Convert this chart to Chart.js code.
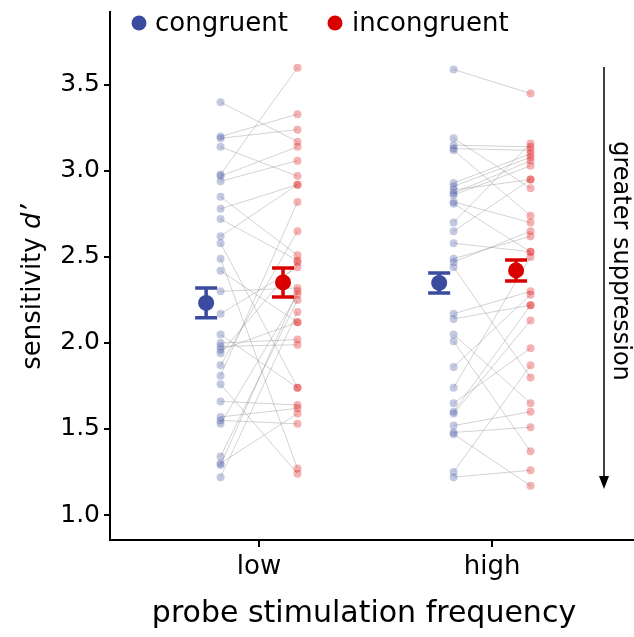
<!DOCTYPE html>
<html>
<head>
<meta charset="utf-8">
<script src="https://cdn.jsdelivr.net/npm/chart.js@4.4.0/dist/chart.umd.min.js"></script>
<style>
  html, body { margin: 0; padding: 0; background: #fff; }
  #wrap { width: 634px; height: 637px; }
</style>
</head>
<body>
<div id="wrap"><canvas id="chart" width="634" height="637"></canvas></div>
<script>
const categories = ['low', 'high'];
const yTicks = [1.0, 1.5, 2.0, 2.5, 3.0, 3.5];

// one entry per participant, same index = same participant (joined by grey lines)
const lowCongruent = [3.40, 3.20, 3.19, 3.14, 2.98, 2.97, 2.94, 2.85, 2.78, 2.72, 2.62, 2.58, 2.49, 2.42, 2.30, 2.17,
    2.05, 2.00, 1.98, 1.96, 1.94, 1.87, 1.81, 1.76, 1.66, 1.57, 1.55, 1.53, 1.34, 1.30, 1.29, 1.22];
const lowIncongruent = [3.17, 3.33, 3.24, 2.97, 3.60, 3.14, 3.06, 2.51, 2.92, 2.48, 2.92, 1.74, 1.27, 2.12, 2.32, 2.44,
    1.74, 2.02, 1.99, 2.12, 2.47, 2.65, 2.82, 1.24, 1.64, 1.62, 1.53, 2.28, 2.25, 1.59, 2.30, 2.18];
const highCongruent = [3.59, 3.19, 3.15, 3.13, 3.12, 2.93, 2.91, 2.89, 2.87, 2.86, 2.82, 2.81, 2.70, 2.65, 2.58, 2.49,
    2.47, 2.44, 2.17, 2.14, 2.05, 2.01, 1.86, 1.74, 1.65, 1.60, 1.59, 1.52, 1.48, 1.47, 1.25, 1.22];
const highIncongruent = [3.45, 2.90, 3.14, 3.12, 2.74, 3.10, 3.08, 2.95, 3.06, 3.03, 2.70, 2.53, 3.16, 2.95, 2.53, 2.62,
    2.65, 1.80, 2.30, 2.22, 1.65, 1.37, 2.28, 2.50, 1.97, 2.22, 2.13, 1.60, 1.51, 1.17, 1.87, 1.26];

const meanCongruent = [2.233, 2.349];
const meanIncongruent = [2.352, 2.422];
const seCongruent = [0.087, 0.058];
const seIncongruent = [0.084, 0.061];

const BLUE = '#3a4ba0';
const RED = '#d90000';
const FONT = '"DejaVu Sans", "Liberation Sans", sans-serif';

// horizontal dodge inside each category
const DX_POINTS = 0.165;
const DX_MEAN_CON = -0.227;
const DX_MEAN_INC = 0.103;

const pairLines = [];
const conPoints = [];
const incPoints = [];
[[lowCongruent, lowIncongruent], [highCongruent, highIncongruent]].forEach(([con, inc], c) => {
    const xc = c + 1;
    con.forEach((v, i) => {
        pairLines.push({ x: xc - DX_POINTS, y: v });
        pairLines.push({ x: xc + DX_POINTS, y: inc[i] });
        pairLines.push({ x: xc, y: null });
        conPoints.push({ x: xc - DX_POINTS, y: v });
        incPoints.push({ x: xc + DX_POINTS, y: inc[i] });
    });
});

const meanConPoints = meanCongruent.map((m, i) => ({ x: i + 1 + DX_MEAN_CON, y: m }));
const meanIncPoints = meanIncongruent.map((m, i) => ({ x: i + 1 + DX_MEAN_INC, y: m }));

const errorBars = {
    id: 'errorBars',
    afterDatasetsDraw(chart) {
        const { ctx, scales: { x, y } } = chart;
        const groups = [
            { means: meanCongruent, se: seCongruent, dx: DX_MEAN_CON, color: BLUE },
            { means: meanIncongruent, se: seIncongruent, dx: DX_MEAN_INC, color: RED }
        ];
        ctx.save();
        ctx.lineWidth = 3.5;
        groups.forEach(g => {
            ctx.strokeStyle = g.color;
            g.means.forEach((m, i) => {
                const px = x.getPixelForValue(i + 1 + g.dx);
                const top = y.getPixelForValue(m + g.se[i]);
                const bot = y.getPixelForValue(m - g.se[i]);
                ctx.beginPath();
                ctx.moveTo(px, top); ctx.lineTo(px, bot);
                ctx.moveTo(px - 11, top); ctx.lineTo(px + 11, top);
                ctx.moveTo(px - 11, bot); ctx.lineTo(px + 11, bot);
                ctx.stroke();
            });
        });
        ctx.restore();
    }
};

// legend, axis titles (d' in italics) and the "greater suppression" arrow
const extras = {
    id: 'extras',
    afterDraw(chart) {
        const ctx = chart.ctx;
        ctx.save();
        ctx.textBaseline = 'middle';
        ctx.font = '26px ' + FONT;

        ctx.fillStyle = BLUE;
        ctx.beginPath(); ctx.arc(139, 23, 7.5, 0, Math.PI * 2); ctx.fill();
        ctx.fillStyle = '#000';
        ctx.fillText('congruent', 155, 24);
        ctx.fillStyle = RED;
        ctx.beginPath(); ctx.arc(335, 23, 7.5, 0, Math.PI * 2); ctx.fill();
        ctx.fillStyle = '#000';
        ctx.fillText('incongruent', 352, 24);

        // arrow
        ctx.strokeStyle = '#000';
        ctx.lineWidth = 1.5;
        ctx.beginPath(); ctx.moveTo(604, 67); ctx.lineTo(604, 478); ctx.stroke();
        ctx.beginPath(); ctx.moveTo(599, 476); ctx.lineTo(609, 476); ctx.lineTo(604, 489); ctx.closePath(); ctx.fill();

        ctx.save();
        ctx.translate(620, 261);
        ctx.rotate(Math.PI / 2);
        ctx.textAlign = 'center';
        ctx.font = '24px ' + FONT;
        ctx.fillText('greater suppression', 0, 0);
        ctx.restore();

        // x axis title
        ctx.save();
        ctx.textAlign = 'center';
        ctx.font = '30px ' + FONT;
        ctx.fillText('probe stimulation frequency', 364, 614);
        ctx.restore();

        // y axis title
        ctx.save();
        ctx.translate(33, 287);
        ctx.rotate(-Math.PI / 2);
        const normal = '26px ' + FONT;
        const italic = 'italic 26px ' + FONT;
        ctx.font = normal;
        const w1 = ctx.measureText('sensitivity ').width;
        ctx.font = italic;
        const w2 = ctx.measureText('d\u2019').width;
        const start = -(w1 + w2) / 2;
        ctx.font = normal;
        ctx.fillText('sensitivity ', start, 0);
        ctx.font = italic;
        ctx.fillText('d\u2019', start + w1, 0);
        ctx.restore();

        ctx.restore();
    }
};

const noPadding = s => {
    s.paddingTop = 0; s.paddingBottom = 0; s.paddingLeft = 0; s.paddingRight = 0;
};

new Chart(document.getElementById('chart'), {
    type: 'scatter',
    data: {
        datasets: [
            { data: meanConPoints, backgroundColor: BLUE, pointRadius: 8, borderWidth: 0, order: 0 },
            { data: meanIncPoints, backgroundColor: RED, pointRadius: 8, borderWidth: 0, order: 0 },
            { data: conPoints, backgroundColor: 'rgba(58,75,160,0.3)', pointRadius: 4, borderWidth: 0, order: 2 },
            { data: incPoints, backgroundColor: 'rgba(217,0,0,0.3)', pointRadius: 4, borderWidth: 0, order: 2 },
            {
                data: pairLines, showLine: true, spanGaps: false, pointRadius: 0,
                borderColor: 'rgba(120,120,120,0.33)', borderWidth: 1, order: 3
            }
        ]
    },
    options: {
        responsive: false,
        animation: false,
        devicePixelRatio: 1,
        layout: { autoPadding: false, padding: { top: 12, right: 0, bottom: 0, left: 0 } },
        plugins: { legend: { display: false }, tooltip: { enabled: false } },
        scales: {
            x: {
                type: 'linear',
                min: 0.3605,
                max: 2.609,
                afterBuildTicks: s => { s.ticks = categories.map((c, i) => ({ value: i + 1 })); },
                afterFit: s => { s.height = 97; noPadding(s); },
                ticks: {
                    callback: v => categories[Math.round(v) - 1],
                    font: { family: FONT, size: 26 },
                    color: '#000',
                    padding: 5,
                    maxRotation: 0,
                    autoSkip: false
                },
                grid: { drawOnChartArea: false, drawTicks: true, tickLength: 7, color: '#000', lineWidth: 2 },
                border: { display: true, color: '#000', width: 2 }
            },
            y: {
                min: 0.8547,
                max: 3.924,
                afterBuildTicks: s => { s.ticks = yTicks.map(v => ({ value: v })); },
                afterFit: s => { s.width = 110; noPadding(s); },
                ticks: {
                    callback: v => v.toFixed(1),
                    font: { family: FONT, size: 25 },
                    color: '#000',
                    padding: 4
                },
                grid: { drawOnChartArea: false, drawTicks: true, tickLength: 6, color: '#000', lineWidth: 2 },
                border: { display: true, color: '#000', width: 2 }
            }
        }
    },
    plugins: [errorBars, extras]
});
</script>
</body>
</html>
